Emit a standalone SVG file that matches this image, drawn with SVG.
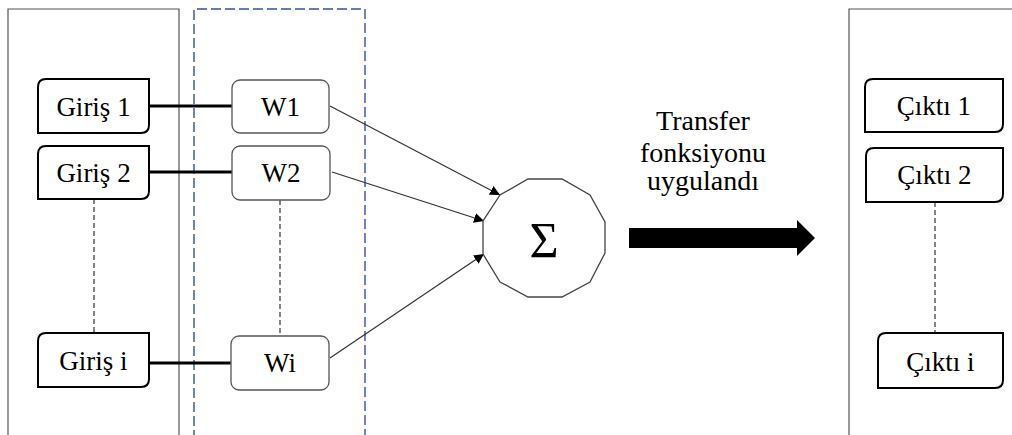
<svg xmlns="http://www.w3.org/2000/svg" width="1012" height="435" viewBox="0 0 1012 435" font-family="'Liberation Serif', 'Times New Roman', serif">
<style>
  text { font-family: 'Liberation Serif', 'Times New Roman', serif; font-size: 27px; fill: #000; text-anchor: middle; }
  .io { fill: #fff; stroke: #000; stroke-width: 2; }
  .w { fill: #fff; stroke: #555; stroke-width: 1.3; }
  .frame { fill: none; stroke: #555; stroke-width: 1.2; }
  .bluedash { fill: none; stroke: #2e54a0; stroke-width: 1.4; stroke-dasharray: 10 4; }
  .thick { stroke: #000; stroke-width: 2.8; fill: none; }
  .dash { stroke: #222; stroke-width: 1.1; stroke-dasharray: 5 3; fill: none; }
  .arr { stroke: #333; stroke-width: 1.2; fill: none; marker-end: url(#ah); }
  .tf { font-size: 28px; }
</style>
<defs>
  <marker id="ah" viewBox="0 0 10 10" refX="10" refY="5" markerWidth="10" markerHeight="10" markerUnits="userSpaceOnUse" orient="auto">
    <path d="M0,0 L10,5 L0,10 Z" fill="#000"/>
  </marker>
</defs>
<rect width="1012" height="435" fill="#fff"/>
<g id="frames">
  <path class="frame" d="M8,440 V9 H179 V440"/>
  <path class="bluedash" d="M194,440 V9 H365 V440"/>
  <path class="frame" d="M849,440 V9 H1020"/>
</g>
<g id="connectors">
  <line class="thick" x1="149" y1="106" x2="232" y2="106"/>
  <line class="thick" x1="149" y1="172" x2="232" y2="172"/>
  <line class="thick" x1="149" y1="363" x2="231" y2="363"/>
  <line class="dash" x1="94" y1="199" x2="94" y2="333"/>
  <line class="dash" x1="280" y1="200" x2="280" y2="336"/>
  <line class="dash" x1="935" y1="202" x2="935" y2="333"/>
  <line class="arr" x1="330" y1="106" x2="500" y2="195"/>
  <line class="arr" x1="332" y1="172" x2="484" y2="221"/>
  <line class="arr" x1="330" y1="358" x2="484" y2="254"/>
  <path d="M629,228 H797 V220 L815,238 L797,256 V248 H629 Z" fill="#000"/>
</g>
<g id="giris1"><path class="io" d="M38,87 Q38,79 46,79 H149 V125 Q149,133 141,133 H38 Z"/><text x="93.5" y="116">Giriş 1</text></g>
<g id="giris2"><path class="io" d="M38,154 Q38,146 46,146 H149 V191 Q149,199 141,199 H38 Z"/><text x="93.5" y="182">Giriş 2</text></g>
<g id="girisi"><path class="io" d="M38,341 Q38,333 46,333 H149 V379 Q149,387 141,387 H38 Z"/><text x="93.5" y="370">Giriş i</text></g>
<g id="w1"><rect class="w" x="232" y="80" width="97" height="53" rx="8"/><text x="280.5" y="116">W1</text></g>
<g id="w2"><rect class="w" x="232" y="146" width="98" height="54" rx="8"/><text x="281" y="182">W2</text></g>
<g id="wi"><rect class="w" x="231" y="336" width="98" height="54" rx="8"/><text x="280" y="372">Wi</text></g>
<g id="sigma">
  <polygon fill="#fff" stroke="#444" stroke-width="1.3" points="528,179 562,179 590,195 605,222 605,253 590,282 562,297 528,297 500,282 483,254 483,221 500,195"/>
  <text x="544" y="257" style="font-size:50px">Σ</text>
</g>
<g id="transfer">
  <text class="tf" x="703" y="130">Transfer</text>
  <text class="tf" x="703" y="162">fonksiyonu</text>
  <text class="tf" x="703" y="190">uygulandı</text>
</g>
<g id="cikti1"><path class="io" d="M865,87 Q865,79 873,79 H1003 V124 Q1003,132 995,132 H865 Z"/><text x="934" y="115">Çıktı 1</text></g>
<g id="cikti2"><path class="io" d="M866,156 Q866,148 874,148 H1003 V194 Q1003,202 995,202 H866 Z"/><text x="934.5" y="184">Çıktı 2</text></g>
<g id="ciktii"><path class="io" d="M878,341 Q878,333 886,333 H1003 V380 Q1003,388 995,388 H878 Z"/><text x="940.5" y="371">Çıktı i</text></g>
</svg>
